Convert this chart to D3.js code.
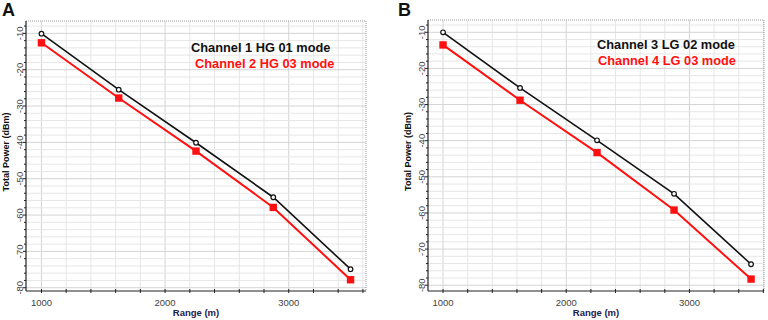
<!DOCTYPE html>
<html><head><meta charset="utf-8">
<script src="https://cdn.jsdelivr.net/npm/d3@7/dist/d3.min.js"></script>
<style>body{margin:0;background:#fff;} svg{display:block;font-family:"Liberation Sans",Arial,sans-serif;}</style>
</head><body>
<svg id="chart" width="768" height="320"></svg>
<script>
const rangeM = [1000, 1625, 2250, 2875, 3500];
const panelLabels = ["A", "B"];
const seriesNamesA = ["Channel 1 HG 01 mode", "Channel 2 HG 03 mode"];
const seriesNamesB = ["Channel 3 LG 02 mode", "Channel 4 LG 03 mode"];
const powerA1 = [-10.1, -25.5, -40.1, -55.1, -74.9];
const powerA2 = [-12.6, -27.8, -42.4, -57.9, -77.8];
const powerB1 = [-10.0, -25.4, -39.9, -54.7, -74.2];
const powerB2 = [-13.5, -28.8, -43.3, -59.2, -78.3];
const xTickLabels = [1000, 2000, 3000];
const yTickLabels = [-10, -20, -30, -40, -50, -60, -70, -80];

const svg = d3.select("#chart");

function panel(cfg) {
  const g = svg.append("g");
  const x = d3.scaleLinear().domain(cfg.xDomain).range([cfg.left, cfg.right]);
  const y = d3.scaleLinear().domain(cfg.yDomain).range([cfg.bottom, cfg.top]);

  const xMinor = d3.range(1000, 3601, 200).filter(v => x(v) > cfg.left && x(v) < cfg.right);
  const yMinor = d3.range(-80, -7, 2);
  g.append("g").selectAll("line").data(xMinor).join("line")
    .attr("x1", d => x(d)).attr("x2", d => x(d))
    .attr("y1", cfg.top).attr("y2", cfg.bottom)
    .attr("stroke", d => d % 1000 === 0 ? "#d4d4d4" : "#e6e6e6").attr("stroke-width", 1);
  g.append("g").selectAll("line").data(yMinor).join("line")
    .attr("x1", cfg.left).attr("x2", cfg.right)
    .attr("y1", d => y(d)).attr("y2", d => y(d))
    .attr("stroke", d => d % 10 === 0 ? "#d4d4d4" : "#e6e6e6").attr("stroke-width", 1);

  g.append("path")
    .attr("d", `M${cfg.left},${cfg.top}H${cfg.right}V${cfg.bottom}`)
    .attr("fill", "none").attr("stroke", "#999").attr("stroke-dasharray", "1,1");

  g.append("line").attr("x1", cfg.left).attr("x2", cfg.left).attr("y1", cfg.top).attr("y2", cfg.bottom)
    .attr("stroke", "#222").attr("stroke-width", 1.2);
  g.append("line").attr("x1", cfg.left).attr("x2", cfg.right).attr("y1", cfg.bottom).attr("y2", cfg.bottom)
    .attr("stroke", "#222").attr("stroke-width", 1.2);

  g.append("g").selectAll("line").data(yMinor).join("line")
    .attr("x1", d => cfg.left - (d % 10 === 0 ? 3 : 2)).attr("x2", cfg.left)
    .attr("y1", d => y(d)).attr("y2", d => y(d)).attr("stroke", "#222");
  g.append("g").selectAll("line").data(xMinor).join("line")
    .attr("x1", d => x(d)).attr("x2", d => x(d))
    .attr("y1", cfg.bottom - 2).attr("y2", cfg.bottom + 2).attr("stroke", "#222");

  g.append("g").selectAll("text").data(yTickLabels).join("text")
    .attr("transform", d => `translate(${cfg.left - 3.5},${y(d)}) rotate(-90)`)
    .attr("text-anchor", "middle").attr("font-size", 9.5).attr("fill", "#444")
    .text(d => d);
  g.append("g").selectAll("text").data(xTickLabels).join("text")
    .attr("x", d => x(d)).attr("y", cfg.bottom + 15)
    .attr("text-anchor", "middle").attr("font-size", 9.5).attr("fill", "#444")
    .text(d => d);

  g.append("text").attr("x", (cfg.left + cfg.right) / 2).attr("y", 316)
    .attr("text-anchor", "middle").attr("font-size", 9.5).attr("font-weight", "bold")
    .attr("fill", "#1c2050").text("Range (m)");
  g.append("text").attr("transform", `translate(${cfg.left - 17},${(cfg.top + cfg.bottom) / 2 - 4}) rotate(-90)`)
    .attr("text-anchor", "middle").attr("font-size", 9).attr("font-weight", "bold")
    .attr("fill", "#111").text("Total Power (dBm)");

  g.append("text").attr("x", cfg.letterX).attr("y", 16).attr("font-size", 18)
    .attr("font-weight", "bold").attr("fill", "#111").text(cfg.letter);

  const line = d3.line().x((d, i) => x(rangeM[i])).y(d => y(d));
  g.append("path").datum(cfg.s2).attr("d", line).attr("fill", "none")
    .attr("stroke", "#ff1010").attr("stroke-width", 2);
  g.append("path").datum(cfg.s1).attr("d", line).attr("fill", "none")
    .attr("stroke", "#111").attr("stroke-width", 1.6);
  g.append("g").selectAll("rect").data(cfg.s2).join("rect")
    .attr("x", (d, i) => x(rangeM[i]) - 3.7).attr("y", d => y(d) - 3.7)
    .attr("width", 7.4).attr("height", 7.4).attr("fill", "#ff1010");
  g.append("g").selectAll("circle").data(cfg.s1).join("circle")
    .attr("cx", (d, i) => x(rangeM[i])).attr("cy", d => y(d)).attr("r", 2.3)
    .attr("fill", "#fff").attr("stroke", "#111").attr("stroke-width", 1.2);

  g.append("text").attr("x", cfg.legX).attr("y", cfg.legY).attr("font-size", 12.8)
    .attr("font-weight", "bold").attr("fill", "#111").text(cfg.names[0]);
  g.append("text").attr("x", cfg.legX + cfg.legDx).attr("y", cfg.legY + 16).attr("font-size", 12.8)
    .attr("font-weight", "bold").attr("fill", "#ff1010").text(cfg.names[1]);
}

panel({letter: panelLabels[0], letterX: 2, left: 26, right: 366, top: 21, bottom: 291,
  xDomain: [875, 3625], yDomain: [-80.9, -6.6], s1: powerA1, s2: powerA2, names: seriesNamesA,
  legX: 191, legY: 52, legDx: 4});
panel({letter: panelLabels[1], letterX: 398, left: 428, right: 764, top: 20, bottom: 291,
  xDomain: [878, 3605], yDomain: [-81.6, -6.6], s1: powerB1, s2: powerB2, names: seriesNamesB,
  legX: 597, legY: 49, legDx: 1});
</script>
</body></html>
